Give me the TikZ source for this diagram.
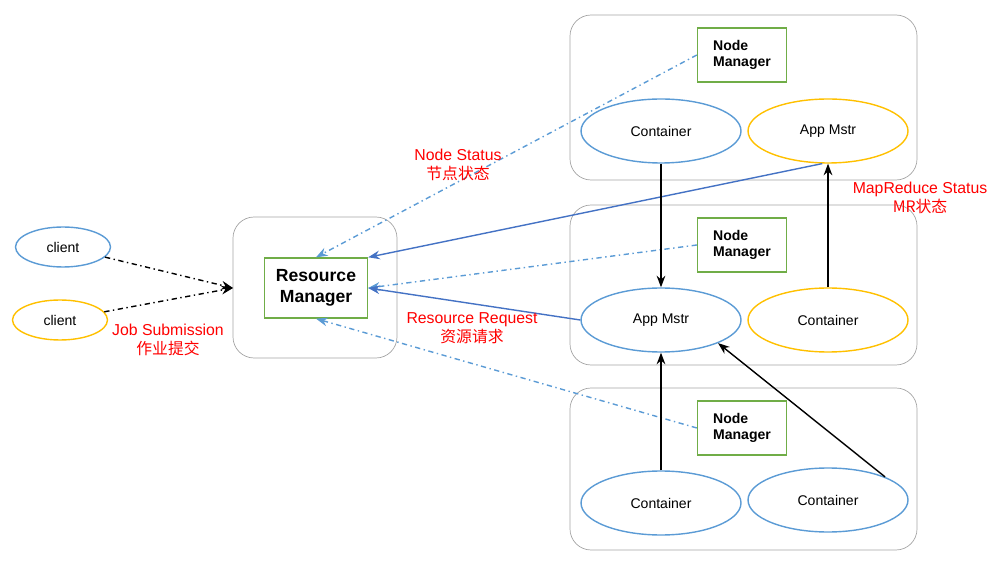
\documentclass[tikz,border=0pt]{standalone}
\usepackage{fontspec}
\setmainfont{Liberation Sans}
\newfontfamily\cjk{Noto Sans CJK SC}
\usetikzlibrary{shapes.geometric,arrows.meta,positioning}
\definecolor{ellblue}{RGB}{91,155,213}
\definecolor{ellyel}{RGB}{255,192,0}
\definecolor{boxgreen}{RGB}{112,173,71}
\definecolor{boxgray}{RGB}{165,165,165}
\definecolor{arrblue}{RGB}{68,114,196}
\tikzset{
  cont/.style={ellipse,draw=ellblue,thick,minimum width=3.2cm,minimum height=1.28cm,font=\footnotesize},
  ycont/.style={cont,draw=ellyel},
  cli/.style={ellipse,draw=ellblue,thick,minimum width=1.9cm,minimum height=0.8cm,font=\footnotesize},
  nm/.style={draw=boxgreen,thick,minimum width=1.78cm,minimum height=1.08cm,align=left,font=\footnotesize\bfseries},
  host/.style={draw=boxgray,rounded corners=12pt},
  lbl/.style={text=red,align=center,font=\small,inner sep=1pt},
  stat/.style={draw=ellblue,thick,dash dot,-{Stealth}},
  req/.style={draw=arrblue,thick,-{Stealth}},
  blk/.style={draw=black,thick,-{Stealth}}
}
\begin{document}
\begin{tikzpicture}[x=0.02cm,y=-0.02cm]
\useasboundingbox (0,0) rectangle (1003,570);
% hosts
\draw[host] (233,217) rectangle (397,358);
\draw[host] (570,15) rectangle (917,180);
\draw[host] (570,205) rectangle (917,365);
\draw[host] (570,388) rectangle (917,550);
% clients and resource manager
\node[cli] (c1) at (63,247) {client};
\node[cli,draw=ellyel] (c2) at (60,320) {client};
\node[draw=boxgreen,thick,minimum width=2.06cm,minimum height=1.2cm,align=center,font=\normalsize\bfseries] (rm) at (316,288) {Resource\\Manager};
\coordinate (rmin) at (233,288);
% node managers
\node[nm] (nm1) at (742,55) {Node\\Manager};
\node[nm] (nm2) at (742,245) {Node\\Manager};
\node[nm] (nm3) at (742,428) {Node\\Manager};
% containers
\node[cont] (tc) at (661,131) {Container};
\node[ycont] (tam) at (828,131) {App Mstr};
\node[cont] (mam) at (661,320) {App Mstr};
\node[ycont] (mc) at (828,320) {Container};
\node[cont] (bc1) at (661,503) {Container};
\node[cont] (bc2) at (828,500) {Container};
% job submission
\draw[thick,dash dot,-{Stealth}] (c1) -- (rmin);
\draw[thick,dash dot,-{Stealth}] (c2) -- (rmin);
% node status
\draw[stat] (nm1.west) -- (rm.north);
\draw[stat] (nm2.west) -- (rm.east);
\draw[stat] (nm3.west) -- (rm.south);
% status and request
\draw[req] (tam.260) -- (rm.north east);
\draw[req] (mam.west) -- (rm.east);
% container to master
\draw[blk] (tc) -- (mam);
\draw[blk] (mc.north) -- (tam.south);
\draw[blk] (bc1) -- (mam);
\draw[blk] (bc2.north east) -- (mam.south east);
% labels
\node[lbl] at (458,165) {Node Status\\{\cjk 节点状态}};
\node[lbl] at (920,198) {MapReduce Status\\{\cjk MR状态}};
\node[lbl] at (472,328) {Resource Request\\{\cjk 资源请求}};
\node[lbl] at (168,340) {Job Submission\\{\cjk 作业提交}};
\end{tikzpicture}
\end{document}
